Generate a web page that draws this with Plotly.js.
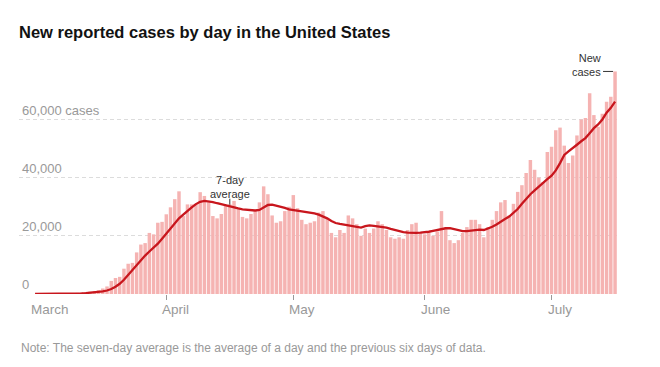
<!DOCTYPE html>
<html><head><meta charset="utf-8">
<script src="https://cdn.plot.ly/plotly-3.0.1.min.js"></script>
<style>html,body{margin:0;padding:0;background:#fff}#chart{width:660px;height:367px}</style>
</head><body><div id="chart"></div>
<script>
// Daily new reported cases, March 1 – July 16, 2020
const marchCases = [10,15,20,25,50,80,100,120,180,280,400,500,650,800,1000,1300,1900,2600,4500,5500,5900,8700,10400,10700,14300,17000,17500,21000,20500,24500,24800];
const aprilCases = [27400,29800,32600,35300,26800,30800,30800,31000,35000,33700,31500,26800,26000,27500,30500,30800,32000,29500,26500,26000,27500,28500,31500,37000,34300,27000,24500,25000,28500,30000];
const mayCases = [34000,29500,25500,24000,24500,25000,28000,28500,26000,21000,19500,22000,21000,27000,26000,24000,20000,22500,21000,22500,25000,24000,22000,19500,19000,19500,19000,22000,24000,24500,21000];
const juneCases = [20500,21000,20000,21500,28500,23000,18500,17500,18500,21000,23000,25500,25500,24000,19500,23000,25500,28500,31500,32300,27000,31000,35100,37400,41600,46100,42700,40000,38500,48800];
const julyCases = [50600,56300,57200,51000,45000,47600,54500,60000,60500,69000,61500,57500,62000,66100,67800,76500];

// Seven-day average
const marchAvg = [0,5,10,15,25,40,55,70,95,130,170,230,310,400,520,680,900,1200,1700,2500,3500,4900,6600,8300,10000,11700,13200,14600,15800,17300,19000];
const aprilAvg = [20700,22500,24300,26000,27300,28700,29800,30900,31700,32000,31900,31600,31200,30800,30400,30000,29700,29400,29100,28900,28700,28700,28900,29700,30600,30700,30400,30000,29600,29100];
const mayAvg = [28900,28600,28300,28100,27900,27700,27300,26700,26000,25100,24400,24100,23800,23600,23300,23000,22800,23300,23600,23400,23200,23100,22800,22400,22000,21600,21300,21100,21000,21000,21100];
const juneAvg = [21200,21400,21700,22000,22400,22600,22600,22300,21900,21600,21600,21800,22000,22100,22000,22500,23100,23900,25000,25800,26600,28000,29200,31000,32800,34300,35600,37000,38300,39500];
const julyAvg = [40700,42500,45000,47800,49000,50000,51300,52500,53600,55300,57000,58300,60000,62300,64000,66100];

const monthTicks = ['2020-03-01','2020-04-01','2020-05-01','2020-06-01','2020-07-01'];
const monthLabels = ['March','April','May','June','July'];
const yTickVals = [0,20000,40000,60000];
const yTickText = ['0','20,000','40,000','60,000 cases'];
const titleText = 'New reported cases by day in the United States';
const noteText = 'Note: The seven-day average is the average of a day and the previous six days of data.';
const avgLabel = '7-day<br>average';
const avgLabelDate = '2020-04-16';
const casesLabel = 'New<br>cases';

const dailyCases = [].concat(marchCases, aprilCases, mayCases, juneCases, julyCases);
const sevenDayAvg = [].concat(marchAvg, aprilAvg, mayAvg, juneAvg, julyAvg);
const dates = dailyCases.map((_, i) => new Date(Date.UTC(2020, 2, 1 + i)).toISOString().slice(0, 10));

const FONT = 'Liberation Sans, Arial, sans-serif';
const avgIdx = dates.indexOf(avgLabelDate);
const lastIdx = dates.length - 1;

const traces = [
  {type: 'bar', x: dates, y: dailyCases, marker: {color: '#f5b3b2', line: {width: 0}}, hoverinfo: 'skip'},
  {type: 'scatter', mode: 'lines', x: dates, y: sevenDayAvg, line: {color: '#c8161d', width: 2.3}, hoverinfo: 'skip'}
];

const annotations = monthLabels.map((t, i) => ({
  x: monthTicks[i], xref: 'x', y: 0, yref: 'paper', text: t, showarrow: false,
  xanchor: 'left', yanchor: 'top', xshift: -6, yshift: -6,
  font: {family: FONT, size: 13.5, color: '#999'}
}));
annotations.push({
  x: 0, xref: 'paper', y: -0.241, yref: 'paper', text: noteText, showarrow: false,
  xanchor: 'left', yanchor: 'middle', font: {family: FONT, size: 12, color: '#999'}
});
annotations.push({
  x: dates[avgIdx], xref: 'x', y: sevenDayAvg[avgIdx], yref: 'y', text: avgLabel, showarrow: false,
  xanchor: 'center', yanchor: 'middle', yshift: 20, font: {family: FONT, size: 11, color: '#333'}
});
annotations.push({
  x: dates[lastIdx], xref: 'x', y: dailyCases[lastIdx], yref: 'y', text: casesLabel, showarrow: false,
  xanchor: 'right', yanchor: 'middle', align: 'right', xshift: -12, yshift: 6,
  font: {family: FONT, size: 11, color: '#333'}
});

const shapes = [
  {type: 'line', xref: 'x', yref: 'y', ysizemode: 'pixel', yanchor: sevenDayAvg[avgIdx],
   x0: dates[avgIdx], x1: dates[avgIdx], y0: 2, y1: 8, line: {color: '#333', width: 1}},
  {type: 'line', xref: 'x', yref: 'y', xsizemode: 'pixel', xanchor: dates[lastIdx],
   x0: -12, x1: -2, y0: dailyCases[lastIdx], y1: dailyCases[lastIdx], line: {color: '#333', width: 1}}
];

const layout = {
  width: 660, height: 367,
  margin: {l: 19, r: 43, t: 70, b: 73, pad: 0},
  paper_bgcolor: '#fff', plot_bgcolor: '#fff',
  showlegend: false,
  bargap: 0.18,
  title: {text: '<b>' + titleText + '</b>', x: 19 / 660, xref: 'container', xanchor: 'left',
          y: 1 - 32 / 367, yref: 'container', yanchor: 'middle',
          font: {family: FONT, size: 16.5, color: '#121212'}},
  xaxis: {type: 'date', range: ['2020-02-26 05:00', '2020-07-16 11:00'],
          tickvals: monthTicks, showticklabels: false, ticks: 'outside', ticklen: 5,
          tickcolor: '#999', tickwidth: 1, showgrid: false, zeroline: false, showline: false, fixedrange: true},
  yaxis: {range: [0, 77000], tickvals: yTickVals, ticktext: yTickText,
          ticklabelposition: 'inside top', tickfont: {family: FONT, size: 13, color: '#999'},
          showgrid: true, gridcolor: '#dcdcdc', griddash: '4px,3px', gridwidth: 1,
          zeroline: false, showline: false, ticks: '', fixedrange: true},
  annotations: annotations,
  shapes: shapes
};

Plotly.newPlot('chart', traces, layout, {displayModeBar: false, staticPlot: true});
</script>
</body></html>
